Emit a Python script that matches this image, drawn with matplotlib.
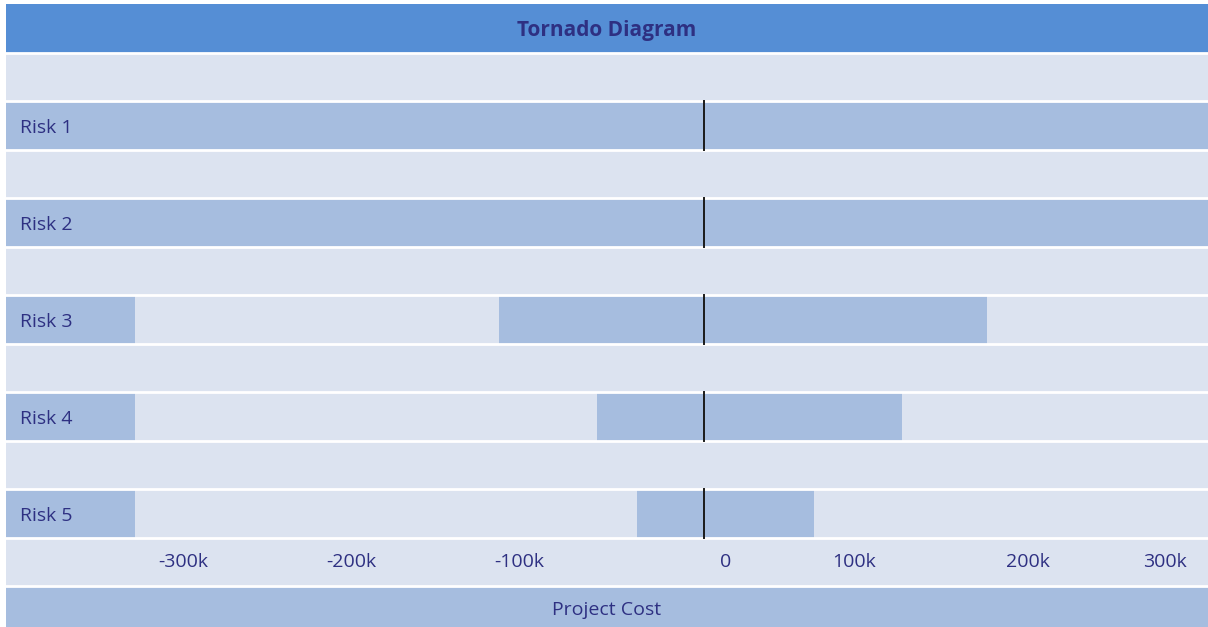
import matplotlib.pyplot as plt
from matplotlib.patches import Rectangle

# data (values in k)
risks = ['Risk 1', 'Risk 2', 'Risk 3', 'Risk 4', 'Risk 5']
low = [-420, -420, -117, -61, -38]
high = [300, 300, 162, 113, 63]
tick_labels = ['-300k', '-200k', '-100k', '0', '100k', '200k', '300k']

# layout (pixels of the 1208x627 picture)
W, H = 1208, 627
x0_px = 6
zero_px = 704
px_per_k = 1.75
row_h = 48.5
top_px = 4
label_col_px = 135
tick_px = [183, 351, 519, 726, 854, 1028, 1165]

c_head = '#558ed5'
c_light = '#dce3f0'
c_mid = '#a6bddf'
c_text = '#2e3082'

fig = plt.figure(figsize=(W / 100, H / 100), dpi=100)
fig.patch.set_facecolor('white')
ax = fig.add_axes([x0_px / W, 0, 1 - x0_px / W, (H - top_px) / H])
xmin = (x0_px - zero_px) / px_per_k
xmax = (W - zero_px) / px_per_k
nrows = (H - top_px) / row_h
ax.set_xlim(xmin, xmax)
ax.set_ylim(nrows, 0)
ax.axis('off')

font = ['Open Sans', 'DejaVu Sans']
fs = 14

# row backgrounds
for r in range(13):
    color = c_light
    if r == 0:
        color = c_head
    elif r == 12:
        color = c_mid
    ax.add_patch(Rectangle((xmin, r), xmax - xmin, 1, facecolor=color,
                           edgecolor='none', zorder=0))

lab_w = (label_col_px - x0_px) / px_per_k
for i, name in enumerate(risks):
    r = 2 + 2 * i
    # label cell
    ax.add_patch(Rectangle((xmin, r), lab_w, 1, facecolor=c_mid,
                           edgecolor='none', zorder=1))
    ax.barh(r + 0.5, high[i] - low[i], left=low[i], height=1,
            color=c_mid, zorder=1)
    ax.text(xmin + 14 / px_per_k, r + 0.55, name, ha='left', va='center',
            fontsize=fs, color=c_text, family=font, zorder=4)
    ax.plot([0, 0], [r, r + 1], color='#1a1a1a', lw=1.4, zorder=3)

# white row separators
for r in range(1, 13):
    ax.axhline(r, color='white', lw=2, zorder=2)

ax.text((xmin + xmax) / 2, 0.55, 'Tornado Diagram', ha='center', va='center',
        fontsize=15, fontweight='bold', color=c_text, family=font, zorder=4)

for lab, px in zip(tick_labels, tick_px):
    ax.text((px - zero_px) / px_per_k, 11.5, lab, ha='center', va='center',
            fontsize=fs, color=c_text, family=font, zorder=4)

ax.text((xmin + xmax) / 2, 12.5, 'Project Cost', ha='center', va='center',
        fontsize=fs, color=c_text, family=font, zorder=4)

fig.savefig('out.png', dpi=100)
